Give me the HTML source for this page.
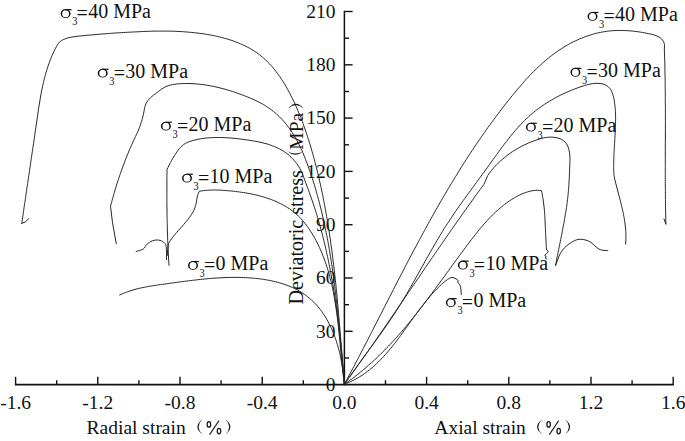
<!DOCTYPE html>
<html><head><meta charset="utf-8"><style>
html,body{margin:0;padding:0;background:#fff;width:685px;height:441px;overflow:hidden}
svg{display:block}
text{font-family:"Liberation Serif", serif;fill:#111}
</style></head><body>
<svg width="685" height="441" viewBox="0 0 685 441">
<rect width="685" height="441" fill="#fff"/>
<line x1="344.4" y1="10.8" x2="344.4" y2="385.4" stroke="#111" stroke-width="1.5"/>
<line x1="14.9" y1="384.6" x2="673.9" y2="384.6" stroke="#111" stroke-width="1.6"/>
<line x1="344.4" y1="358.0" x2="349.0" y2="358.0" stroke="#111" stroke-width="1.4"/>
<line x1="344.4" y1="331.3" x2="352.6" y2="331.3" stroke="#111" stroke-width="1.4"/>
<line x1="344.4" y1="304.7" x2="349.0" y2="304.7" stroke="#111" stroke-width="1.4"/>
<line x1="344.4" y1="278.0" x2="352.6" y2="278.0" stroke="#111" stroke-width="1.4"/>
<line x1="344.4" y1="251.4" x2="349.0" y2="251.4" stroke="#111" stroke-width="1.4"/>
<line x1="344.4" y1="224.7" x2="352.6" y2="224.7" stroke="#111" stroke-width="1.4"/>
<line x1="344.4" y1="198.1" x2="349.0" y2="198.1" stroke="#111" stroke-width="1.4"/>
<line x1="344.4" y1="171.4" x2="352.6" y2="171.4" stroke="#111" stroke-width="1.4"/>
<line x1="344.4" y1="144.8" x2="349.0" y2="144.8" stroke="#111" stroke-width="1.4"/>
<line x1="344.4" y1="118.1" x2="352.6" y2="118.1" stroke="#111" stroke-width="1.4"/>
<line x1="344.4" y1="91.5" x2="349.0" y2="91.5" stroke="#111" stroke-width="1.4"/>
<line x1="344.4" y1="64.8" x2="352.6" y2="64.8" stroke="#111" stroke-width="1.4"/>
<line x1="344.4" y1="38.2" x2="349.0" y2="38.2" stroke="#111" stroke-width="1.4"/>
<line x1="344.4" y1="11.5" x2="352.6" y2="11.5" stroke="#111" stroke-width="1.4"/>
<line x1="15.6" y1="384.6" x2="15.6" y2="376.8" stroke="#111" stroke-width="1.4"/>
<line x1="56.7" y1="384.6" x2="56.7" y2="380.2" stroke="#111" stroke-width="1.4"/>
<line x1="97.8" y1="384.6" x2="97.8" y2="376.8" stroke="#111" stroke-width="1.4"/>
<line x1="138.9" y1="384.6" x2="138.9" y2="380.2" stroke="#111" stroke-width="1.4"/>
<line x1="180.0" y1="384.6" x2="180.0" y2="376.8" stroke="#111" stroke-width="1.4"/>
<line x1="221.1" y1="384.6" x2="221.1" y2="380.2" stroke="#111" stroke-width="1.4"/>
<line x1="262.2" y1="384.6" x2="262.2" y2="376.8" stroke="#111" stroke-width="1.4"/>
<line x1="303.3" y1="384.6" x2="303.3" y2="380.2" stroke="#111" stroke-width="1.4"/>
<line x1="385.5" y1="384.6" x2="385.5" y2="380.2" stroke="#111" stroke-width="1.4"/>
<line x1="426.6" y1="384.6" x2="426.6" y2="376.8" stroke="#111" stroke-width="1.4"/>
<line x1="467.7" y1="384.6" x2="467.7" y2="380.2" stroke="#111" stroke-width="1.4"/>
<line x1="508.8" y1="384.6" x2="508.8" y2="376.8" stroke="#111" stroke-width="1.4"/>
<line x1="549.9" y1="384.6" x2="549.9" y2="380.2" stroke="#111" stroke-width="1.4"/>
<line x1="591.0" y1="384.6" x2="591.0" y2="376.8" stroke="#111" stroke-width="1.4"/>
<line x1="632.1" y1="384.6" x2="632.1" y2="380.2" stroke="#111" stroke-width="1.4"/>
<line x1="673.2" y1="384.6" x2="673.2" y2="376.8" stroke="#111" stroke-width="1.4"/>
<text x="335.6" y="390.9" text-anchor="end" font-size="19.5">0</text>
<text x="335.6" y="337.6" text-anchor="end" font-size="19.5">30</text>
<text x="335.6" y="284.3" text-anchor="end" font-size="19.5">60</text>
<text x="335.6" y="231.0" text-anchor="end" font-size="19.5">90</text>
<text x="335.6" y="177.7" text-anchor="end" font-size="19.5">120</text>
<text x="335.6" y="124.4" text-anchor="end" font-size="19.5">150</text>
<text x="335.6" y="71.1" text-anchor="end" font-size="19.5">180</text>
<text x="335.6" y="17.8" text-anchor="end" font-size="19.5">210</text>
<text x="15.6" y="408.8" text-anchor="middle" font-size="19.5">-1.6</text>
<text x="97.8" y="408.8" text-anchor="middle" font-size="19.5">-1.2</text>
<text x="180.0" y="408.8" text-anchor="middle" font-size="19.5">-0.8</text>
<text x="262.2" y="408.8" text-anchor="middle" font-size="19.5">-0.4</text>
<text x="344.4" y="408.8" text-anchor="middle" font-size="19.5">0.0</text>
<text x="426.6" y="408.8" text-anchor="middle" font-size="19.5">0.4</text>
<text x="508.8" y="408.8" text-anchor="middle" font-size="19.5">0.8</text>
<text x="591.0" y="408.8" text-anchor="middle" font-size="19.5">1.2</text>
<text x="673.2" y="408.8" text-anchor="middle" font-size="19.5">1.6</text>
<text x="86.6" y="434.1" font-size="19.5">Radial strain</text>
<path d="M202.50,419.30 Q192.30,426.90 202.50,434.50 Q194.80,426.90 202.50,419.30Z" fill="#161616"/><ellipse cx="208.90" cy="424.4" rx="1.75" ry="2.75" fill="none" stroke="#161616" stroke-width="1.25"/><ellipse cx="219.00" cy="431.1" rx="1.75" ry="2.75" fill="none" stroke="#161616" stroke-width="1.25"/><line x1="209.60" y1="434.6" x2="219.00" y2="420.6" stroke="#161616" stroke-width="1.05"/><path d="M225.30,419.30 Q235.50,426.90 225.30,434.50 Q233.00,426.90 225.30,419.30Z" fill="#161616"/>
<text x="434.3" y="434.1" font-size="19.5">Axial strain</text>
<path d="M542.20,419.30 Q532.00,426.90 542.20,434.50 Q534.50,426.90 542.20,419.30Z" fill="#161616"/><ellipse cx="548.60" cy="424.4" rx="1.75" ry="2.75" fill="none" stroke="#161616" stroke-width="1.25"/><ellipse cx="558.70" cy="431.1" rx="1.75" ry="2.75" fill="none" stroke="#161616" stroke-width="1.25"/><line x1="549.30" y1="434.6" x2="558.70" y2="420.6" stroke="#161616" stroke-width="1.05"/><path d="M565.00,419.30 Q575.20,426.90 565.00,434.50 Q572.70,426.90 565.00,419.30Z" fill="#161616"/>
<g transform="translate(302.8,304.6) rotate(-90)"><text x="0" y="0" font-size="20.1">Deviatoric stress</text><text x="154.9" y="0" font-size="19.5">MPa</text></g>
<path d="M287.40,151.20 Q295.30,158.40 303.20,151.20 Q295.30,156.00 287.40,151.20Z" fill="#161616"/>
<path d="M288.00,108.60 Q295.80,98.80 303.60,108.60 Q295.80,101.20 288.00,108.60Z" fill="#161616"/>
<path d="M60.60,13.55 a5.0,4.45 0 1,0 10.00,0 a5.0,4.45 0 1,0 -10.00,0Z M62.15,13.70 a3.45,3.55 0 1,0 6.90,0 a3.45,3.55 0 1,0 -6.90,0Z" fill="#111" fill-rule="evenodd"/><path d="M65.30,9.05 L71.50,9.05 L71.50,10.25 L65.30,10.25Z" fill="#111"/><text x="72.20" y="25.00" font-size="12" textLength="5.2" lengthAdjust="spacingAndGlyphs">3</text><text x="76.60" y="20.20" font-size="20">=<tspan dx="0.3" dy="-2.2">40 MPa</tspan></text>
<path d="M97.70,73.15 a5.0,4.45 0 1,0 10.00,0 a5.0,4.45 0 1,0 -10.00,0Z M99.25,73.30 a3.45,3.55 0 1,0 6.90,0 a3.45,3.55 0 1,0 -6.90,0Z" fill="#111" fill-rule="evenodd"/><path d="M102.40,68.65 L108.60,68.65 L108.60,69.85 L102.40,69.85Z" fill="#111"/><text x="109.30" y="84.60" font-size="12" textLength="5.2" lengthAdjust="spacingAndGlyphs">3</text><text x="113.70" y="79.80" font-size="20">=<tspan dx="0.3" dy="-2.2">30 MPa</tspan></text>
<path d="M160.90,126.15 a5.0,4.45 0 1,0 10.00,0 a5.0,4.45 0 1,0 -10.00,0Z M162.45,126.30 a3.45,3.55 0 1,0 6.90,0 a3.45,3.55 0 1,0 -6.90,0Z" fill="#111" fill-rule="evenodd"/><path d="M165.60,121.65 L171.80,121.65 L171.80,122.85 L165.60,122.85Z" fill="#111"/><text x="172.50" y="137.60" font-size="12" textLength="5.2" lengthAdjust="spacingAndGlyphs">3</text><text x="176.90" y="132.80" font-size="20">=<tspan dx="0.3" dy="-2.2">20 MPa</tspan></text>
<path d="M182.00,178.15 a5.0,4.45 0 1,0 10.00,0 a5.0,4.45 0 1,0 -10.00,0Z M183.55,178.30 a3.45,3.55 0 1,0 6.90,0 a3.45,3.55 0 1,0 -6.90,0Z" fill="#111" fill-rule="evenodd"/><path d="M186.70,173.65 L192.90,173.65 L192.90,174.85 L186.70,174.85Z" fill="#111"/><text x="193.60" y="189.60" font-size="12" textLength="5.2" lengthAdjust="spacingAndGlyphs">3</text><text x="198.00" y="184.80" font-size="20">=<tspan dx="0.3" dy="-2.2">10 MPa</tspan></text>
<path d="M188.00,265.45 a5.0,4.45 0 1,0 10.00,0 a5.0,4.45 0 1,0 -10.00,0Z M189.55,265.60 a3.45,3.55 0 1,0 6.90,0 a3.45,3.55 0 1,0 -6.90,0Z" fill="#111" fill-rule="evenodd"/><path d="M192.70,260.95 L198.90,260.95 L198.90,262.15 L192.70,262.15Z" fill="#111"/><text x="199.60" y="276.90" font-size="12" textLength="5.2" lengthAdjust="spacingAndGlyphs">3</text><text x="204.00" y="272.10" font-size="20">=<tspan dx="0.3" dy="-2.2">0 MPa</tspan></text>
<path d="M587.50,16.35 a5.0,4.45 0 1,0 10.00,0 a5.0,4.45 0 1,0 -10.00,0Z M589.05,16.50 a3.45,3.55 0 1,0 6.90,0 a3.45,3.55 0 1,0 -6.90,0Z" fill="#111" fill-rule="evenodd"/><path d="M592.20,11.85 L598.40,11.85 L598.40,13.05 L592.20,13.05Z" fill="#111"/><text x="599.10" y="27.80" font-size="12" textLength="5.2" lengthAdjust="spacingAndGlyphs">3</text><text x="603.50" y="23.00" font-size="20">=<tspan dx="0.3" dy="-2.2">40 MPa</tspan></text>
<path d="M570.40,72.25 a5.0,4.45 0 1,0 10.00,0 a5.0,4.45 0 1,0 -10.00,0Z M571.95,72.40 a3.45,3.55 0 1,0 6.90,0 a3.45,3.55 0 1,0 -6.90,0Z" fill="#111" fill-rule="evenodd"/><path d="M575.10,67.75 L581.30,67.75 L581.30,68.95 L575.10,68.95Z" fill="#111"/><text x="582.00" y="83.70" font-size="12" textLength="5.2" lengthAdjust="spacingAndGlyphs">3</text><text x="586.40" y="78.90" font-size="20">=<tspan dx="0.3" dy="-2.2">30 MPa</tspan></text>
<path d="M525.90,127.15 a5.0,4.45 0 1,0 10.00,0 a5.0,4.45 0 1,0 -10.00,0Z M527.45,127.30 a3.45,3.55 0 1,0 6.90,0 a3.45,3.55 0 1,0 -6.90,0Z" fill="#111" fill-rule="evenodd"/><path d="M530.60,122.65 L536.80,122.65 L536.80,123.85 L530.60,123.85Z" fill="#111"/><text x="537.50" y="138.60" font-size="12" textLength="5.2" lengthAdjust="spacingAndGlyphs">3</text><text x="541.90" y="133.80" font-size="20">=<tspan dx="0.3" dy="-2.2">20 MPa</tspan></text>
<path d="M457.80,265.05 a5.0,4.45 0 1,0 10.00,0 a5.0,4.45 0 1,0 -10.00,0Z M459.35,265.20 a3.45,3.55 0 1,0 6.90,0 a3.45,3.55 0 1,0 -6.90,0Z" fill="#111" fill-rule="evenodd"/><path d="M462.50,260.55 L468.70,260.55 L468.70,261.75 L462.50,261.75Z" fill="#111"/><text x="469.40" y="276.50" font-size="12" textLength="5.2" lengthAdjust="spacingAndGlyphs">3</text><text x="473.80" y="271.70" font-size="20">=<tspan dx="0.3" dy="-2.2">10 MPa</tspan></text>
<path d="M445.80,302.55 a5.0,4.45 0 1,0 10.00,0 a5.0,4.45 0 1,0 -10.00,0Z M447.35,302.70 a3.45,3.55 0 1,0 6.90,0 a3.45,3.55 0 1,0 -6.90,0Z" fill="#111" fill-rule="evenodd"/><path d="M450.50,298.05 L456.70,298.05 L456.70,299.25 L450.50,299.25Z" fill="#111"/><text x="457.40" y="314.00" font-size="12" textLength="5.2" lengthAdjust="spacingAndGlyphs">3</text><text x="461.80" y="309.20" font-size="20">=<tspan dx="0.3" dy="-2.2">0 MPa</tspan></text>
<path d="M344.4,384.2 L344.2,382.2 L344.1,380.2 L343.9,378.2 L343.7,376.3 L343.6,374.3 L343.4,372.3 L343.3,370.3 L343.1,368.3 L342.9,366.3 L342.8,364.3 L342.6,362.3 L342.5,360.3 L342.3,358.3 L342.1,356.3 L342.0,354.3 L341.8,352.3 L341.7,350.3 L341.5,348.3 L341.3,346.3 L341.2,344.3 L341.0,342.3 L340.8,340.3 L340.7,338.3 L340.5,336.3 L340.4,334.3 L340.2,332.3 L340.0,330.3 L339.9,328.3 L339.7,326.3 L339.5,324.3 L339.3,322.3 L339.2,320.3 L339.0,318.3 L338.8,316.3 L338.6,314.3 L338.5,312.3 L338.3,310.3 L338.1,308.2 L337.9,306.2 L337.7,304.2 L337.5,302.2 L337.4,300.2 L337.2,298.2 L337.0,296.2 L336.8,294.2 L336.6,292.2 L336.4,290.2 L336.2,288.2 L336.0,286.2 L335.8,284.2 L335.6,282.1 L335.3,280.1 L335.1,278.1 L334.9,276.1 L334.7,274.1 L334.5,272.1 L334.2,270.1 L334.0,268.1 L333.8,266.1 L333.5,264.1 L333.3,262.1 L333.0,260.1 L332.8,258.1 L332.5,256.1 L332.3,254.1 L332.0,252.1 L331.8,250.1 L331.5,248.1 L331.2,246.1 L330.9,244.1 L330.7,242.1 L330.4,240.1 L330.1,238.1 L329.8,236.1 L329.5,234.1 L329.2,232.2 L328.9,230.2 L328.6,228.2 L328.3,226.2 L328.0,224.2 L327.6,222.2 L327.3,220.2 L327.0,218.3 L326.6,216.3 L326.3,214.3 L325.9,212.3 L325.6,210.3 L325.2,208.4 L324.9,206.4 L324.5,204.4 L324.1,202.5 L323.7,200.5 L323.3,198.5 L323.0,196.5 L322.6,194.6 L322.2,192.6 L321.7,190.7 L321.3,188.7 L320.9,186.7 L320.5,184.8 L320.0,182.8 L319.6,180.9 L319.2,178.9 L318.7,177.0 L318.2,175.0 L317.8,173.1 L317.3,171.1 L316.8,169.2 L316.3,167.3 L315.8,165.3 L315.3,163.4 L314.8,161.5 L314.3,159.5 L313.8,157.6 L313.3,155.7 L312.7,153.8 L312.2,151.8 L311.6,149.9 L311.1,148.0 L310.5,146.1 L309.9,144.2 L309.3,142.3 L308.8,140.4 L308.1,138.5 L307.5,136.6 L306.9,134.7 L306.3,132.8 L305.6,130.9 L305.0,129.0 L304.3,127.1 L303.6,125.2 L303.0,123.3 L302.3,121.5 L301.5,119.6 L300.8,117.7 L300.1,115.9 L299.3,114.0 L298.5,112.1 L297.8,110.3 L297.0,108.4 L296.1,106.6 L295.3,104.7 L294.5,102.9 L293.6,101.0 L292.7,99.2 L291.8,97.4 L290.9,95.6 L290.0,93.7 L289.0,91.9 L288.1,90.1 L287.1,88.4 L286.1,86.6 L285.1,84.8 L284.0,83.1 L282.9,81.4 L281.8,79.7 L280.7,78.0 L279.6,76.3 L278.4,74.7 L277.2,73.1 L276.0,71.5 L274.8,69.9 L273.5,68.3 L272.2,66.8 L270.9,65.3 L269.6,63.9 L268.2,62.5 L266.8,61.1 L265.4,59.7 L263.9,58.4 L262.4,57.1 L260.9,55.9 L259.4,54.6 L257.8,53.5 L256.2,52.3 L254.6,51.3 L252.9,50.2 L251.2,49.2 L249.5,48.2 L247.7,47.3 L246.0,46.3 L244.2,45.5 L242.4,44.6 L240.5,43.8 L238.7,43.0 L236.8,42.3 L234.9,41.6 L233.0,40.9 L231.1,40.2 L229.2,39.6 L227.3,39.0 L225.3,38.5 L223.3,37.9 L221.4,37.4 L219.4,36.9 L217.4,36.4 L215.4,36.0 L213.4,35.6 L211.3,35.2 L209.3,34.8 L207.3,34.5 L205.3,34.1 L203.3,33.8 L201.3,33.5 L199.2,33.3 L197.2,33.0 L195.2,32.8 L193.2,32.6 L191.2,32.4 L189.2,32.2 L187.2,32.0 L185.2,31.9 L183.2,31.7 L181.2,31.6 L179.1,31.5 L177.1,31.4 L175.1,31.3 L173.2,31.2 L171.2,31.2 L169.2,31.1 L167.2,31.1 L165.2,31.1 L163.2,31.1 L161.2,31.1 L159.2,31.1 L157.2,31.1 L155.2,31.1 L153.2,31.2 L151.2,31.2 L149.2,31.3 L147.2,31.4 L145.2,31.4 L143.2,31.5 L141.2,31.6 L139.2,31.7 L137.3,31.8 L135.3,31.9 L133.3,32.0 L131.3,32.1 L129.3,32.2 L127.3,32.3 L125.3,32.4 L123.3,32.5 L121.2,32.7 L119.2,32.8 L117.2,32.9 L115.2,33.0 L113.2,33.2 L111.2,33.3 L109.2,33.5 L107.2,33.6 L105.2,33.8 L103.2,33.9 L101.2,34.1 L99.2,34.3 L97.2,34.4 L95.1,34.6 L93.1,34.8 L91.1,35.0 L89.1,35.1 L87.1,35.3 L85.1,35.5 L83.1,35.7 L81.1,35.9 L79.1,36.1 L77.1,36.3 L75.1,36.6 L73.1,36.9 L71.1,37.2 L69.1,37.6 L67.1,38.2 L65.2,38.8 L63.3,39.6 L61.6,40.5 L60.0,41.7 L58.7,43.1 L57.5,44.7 L56.5,46.5 L55.5,48.3 L54.6,50.1 L53.7,51.9 L52.9,53.8 L52.0,55.6 L51.3,57.5 L50.5,59.3 L49.8,61.2 L49.1,63.1 L48.4,65.0 L47.8,66.9 L47.2,68.8 L46.6,70.7 L46.0,72.6 L45.5,74.5 L44.9,76.5 L44.4,78.4 L44.0,80.4 L43.5,82.3 L43.0,84.2 L42.6,86.2 L42.2,88.2 L41.8,90.1 L41.4,92.1 L41.0,94.1 L40.7,96.0 L40.3,98.0 L40.0,100.0 L39.7,102.0 L39.4,104.0 L39.0,106.0 L38.7,107.9 L38.4,109.9 L38.1,111.9 L37.8,113.9 L37.6,115.9 L37.3,117.9 L37.0,119.9 L36.7,121.9 L36.4,123.9 L36.1,125.9 L35.8,127.9 L35.5,129.8 L35.2,131.8 L34.9,133.8 L34.7,135.8 L34.4,137.8 L34.1,139.8 L33.8,141.8 L33.5,143.8 L33.2,145.8 L32.9,147.8 L32.6,149.7 L32.3,151.7 L32.0,153.7 L31.7,155.7 L31.4,157.7 L31.1,159.7 L30.8,161.7 L30.6,163.7 L30.3,165.7 L30.0,167.6 L29.7,169.6 L29.4,171.6 L29.1,173.6 L28.8,175.6 L28.5,177.6 L28.2,179.6 L27.9,181.6 L27.6,183.5 L27.3,185.5 L27.0,187.5 L26.7,189.5 L26.4,191.5 L26.1,193.5 L25.9,195.5 L25.6,197.5 L25.3,199.4 L25.0,201.4 L24.7,203.4 L24.4,205.4 L24.1,207.4 L23.8,209.4 L23.5,211.4 L23.2,213.4 L23.0,215.3 L22.7,217.3 L22.4,219.3 L22.1,221.3 L21.8,223.3" stroke="#262626" stroke-width="1.0" fill="none" stroke-linejoin="round" stroke-linecap="round"/>
<path d="M344.4,384.2 L344.2,382.2 L344.0,380.2 L343.8,378.3 L343.7,376.3 L343.5,374.3 L343.3,372.3 L343.1,370.3 L342.9,368.3 L342.8,366.3 L342.6,364.3 L342.4,362.3 L342.2,360.3 L342.0,358.3 L341.9,356.3 L341.7,354.4 L341.5,352.4 L341.3,350.4 L341.1,348.4 L341.0,346.4 L340.8,344.3 L340.6,342.3 L340.4,340.3 L340.2,338.3 L340.0,336.3 L339.8,334.3 L339.7,332.3 L339.5,330.3 L339.3,328.3 L339.1,326.3 L338.9,324.3 L338.7,322.3 L338.5,320.3 L338.3,318.3 L338.1,316.3 L337.9,314.3 L337.7,312.3 L337.5,310.3 L337.2,308.3 L337.0,306.2 L336.8,304.2 L336.6,302.2 L336.4,300.2 L336.1,298.2 L335.9,296.2 L335.7,294.2 L335.4,292.2 L335.2,290.2 L334.9,288.2 L334.7,286.2 L334.4,284.2 L334.2,282.2 L333.9,280.2 L333.7,278.2 L333.4,276.2 L333.1,274.2 L332.8,272.2 L332.6,270.2 L332.3,268.2 L332.0,266.2 L331.7,264.2 L331.4,262.2 L331.1,260.3 L330.8,258.3 L330.4,256.3 L330.1,254.3 L329.8,252.3 L329.5,250.3 L329.1,248.3 L328.8,246.4 L328.4,244.4 L328.1,242.4 L327.7,240.4 L327.3,238.5 L327.0,236.5 L326.6,234.5 L326.2,232.5 L325.8,230.6 L325.4,228.6 L325.0,226.6 L324.6,224.7 L324.1,222.7 L323.7,220.8 L323.3,218.8 L322.8,216.9 L322.4,214.9 L321.9,213.0 L321.5,211.0 L321.0,209.1 L320.5,207.1 L320.0,205.2 L319.5,203.2 L319.0,201.3 L318.5,199.4 L318.0,197.5 L317.4,195.5 L316.9,193.6 L316.4,191.7 L315.8,189.8 L315.2,187.8 L314.7,185.9 L314.1,184.0 L313.5,182.1 L312.9,180.2 L312.3,178.3 L311.6,176.4 L311.0,174.5 L310.4,172.6 L309.7,170.7 L309.1,168.9 L308.4,167.0 L307.7,165.1 L307.0,163.2 L306.3,161.4 L305.6,159.5 L304.9,157.6 L304.1,155.8 L303.3,153.9 L302.6,152.1 L301.8,150.3 L300.9,148.5 L300.1,146.6 L299.2,144.8 L298.3,143.1 L297.4,141.3 L296.4,139.5 L295.5,137.8 L294.4,136.1 L293.4,134.4 L292.3,132.7 L291.2,131.0 L290.0,129.3 L288.9,127.7 L287.6,126.1 L286.4,124.5 L285.1,122.9 L283.7,121.3 L282.4,119.8 L281.0,118.4 L279.6,116.9 L278.1,115.5 L276.6,114.1 L275.1,112.8 L273.5,111.5 L271.9,110.2 L270.3,109.0 L268.7,107.9 L267.0,106.8 L265.4,105.7 L263.7,104.7 L261.9,103.7 L260.2,102.8 L258.4,101.8 L256.6,101.0 L254.8,100.1 L253.0,99.3 L251.2,98.5 L249.4,97.7 L247.5,97.0 L245.7,96.3 L243.8,95.5 L241.9,94.8 L240.1,94.1 L238.2,93.5 L236.3,92.8 L234.4,92.1 L232.5,91.5 L230.6,90.9 L228.7,90.3 L226.8,89.7 L224.9,89.2 L222.9,88.7 L221.0,88.2 L219.0,87.7 L217.1,87.2 L215.1,86.8 L213.2,86.3 L211.2,86.0 L209.2,85.6 L207.2,85.3 L205.2,84.9 L203.2,84.7 L201.2,84.4 L199.2,84.2 L197.1,84.0 L195.1,83.8 L193.0,83.7 L191.0,83.6 L189.0,83.5 L186.9,83.5 L184.9,83.5 L182.8,83.6 L180.8,83.7 L178.8,83.8 L176.7,84.0 L174.7,84.3 L172.7,84.6 L170.8,85.0 L168.9,85.5 L167.0,86.2 L165.3,86.9 L163.5,87.9 L161.9,88.9 L160.2,90.1 L158.6,91.3 L157.0,92.5 L155.4,93.8 L153.7,95.0 L152.1,96.3 L150.6,97.7 L149.2,99.1 L147.9,100.6 L146.8,102.2 L145.9,103.9 L145.2,105.8 L144.7,107.7 L144.3,109.7 L143.9,111.8 L143.5,113.8 L143.1,115.7 L142.6,117.7 L142.1,119.6 L141.5,121.5 L140.9,123.4 L140.3,125.3 L139.6,127.2 L138.9,129.0 L138.1,130.9 L137.3,132.7 L136.4,134.6 L135.6,136.4 L134.7,138.2 L133.8,140.1 L133.0,141.9 L132.2,143.8 L131.3,145.6 L130.5,147.4 L129.7,149.3 L128.9,151.1 L128.2,153.0 L127.4,154.8 L126.7,156.7 L125.9,158.6 L125.2,160.4 L124.5,162.3 L123.8,164.2 L123.1,166.0 L122.4,167.9 L121.7,169.8 L121.0,171.7 L120.4,173.6 L119.7,175.4 L119.1,177.3 L118.5,179.2 L117.8,181.1 L117.2,183.0 L116.6,185.0 L116.0,186.9 L115.4,188.8 L114.9,190.7 L114.3,192.6 L113.7,194.6 L113.2,196.5 L112.6,198.5 L112.1,200.4 L111.6,202.4 L111.0,204.3 L110.5,206.3 L112.5,222.5 L116.3,243.8" stroke="#262626" stroke-width="1.0" fill="none" stroke-linejoin="round" stroke-linecap="round"/>
<path d="M344.4,384.2 L344.2,382.2 L344.1,380.2 L343.9,378.2 L343.7,376.2 L343.6,374.2 L343.4,372.2 L343.2,370.2 L343.1,368.2 L342.9,366.2 L342.7,364.2 L342.5,362.1 L342.3,360.1 L342.2,358.1 L342.0,356.1 L341.8,354.1 L341.6,352.1 L341.4,350.1 L341.2,348.1 L341.0,346.1 L340.8,344.1 L340.6,342.1 L340.4,340.1 L340.1,338.1 L339.9,336.0 L339.7,334.0 L339.5,332.0 L339.2,330.0 L339.0,328.0 L338.8,326.0 L338.5,324.0 L338.3,322.0 L338.0,320.0 L337.8,318.0 L337.5,316.0 L337.3,314.0 L337.0,312.0 L336.7,310.0 L336.5,308.0 L336.2,306.0 L335.9,304.0 L335.6,302.0 L335.3,300.0 L335.0,298.0 L334.7,296.0 L334.4,294.0 L334.1,292.0 L333.8,290.0 L333.4,288.0 L333.1,286.0 L332.8,284.1 L332.4,282.1 L332.1,280.1 L331.7,278.1 L331.4,276.1 L331.0,274.1 L330.7,272.2 L330.3,270.2 L329.9,268.2 L329.5,266.2 L329.1,264.2 L328.7,262.3 L328.3,260.3 L327.9,258.3 L327.5,256.4 L327.0,254.4 L326.6,252.4 L326.2,250.5 L325.7,248.5 L325.3,246.5 L324.8,244.6 L324.3,242.6 L323.9,240.7 L323.4,238.7 L322.9,236.8 L322.4,234.8 L321.9,232.9 L321.4,230.9 L320.8,229.0 L320.3,227.0 L319.8,225.1 L319.2,223.2 L318.7,221.2 L318.1,219.3 L317.5,217.4 L317.0,215.4 L316.4,213.5 L315.8,211.6 L315.2,209.7 L314.6,207.8 L313.9,205.9 L313.3,203.9 L312.7,202.0 L312.0,200.1 L311.4,198.2 L310.7,196.3 L310.0,194.4 L309.3,192.5 L308.7,190.6 L308.0,188.8 L307.2,186.9 L306.5,185.0 L305.8,183.1 L305.1,181.2 L304.5,179.4 L303.8,177.5 L303.1,175.7 L302.4,173.8 L301.6,172.0 L300.8,170.2 L299.8,168.4 L298.8,166.7 L297.7,165.0 L296.5,163.3 L295.2,161.7 L293.9,160.1 L292.5,158.6 L291.0,157.1 L289.5,155.7 L288.0,154.4 L286.4,153.2 L284.7,152.0 L283.1,150.9 L281.4,149.9 L279.7,149.0 L277.9,148.1 L276.1,147.3 L274.3,146.5 L272.5,145.8 L270.6,145.1 L268.8,144.5 L266.9,143.9 L265.0,143.4 L263.0,142.9 L261.1,142.4 L259.1,142.0 L257.1,141.6 L255.1,141.2 L253.2,140.9 L251.1,140.5 L249.1,140.2 L247.1,139.9 L245.1,139.7 L243.1,139.4 L241.1,139.1 L239.1,138.9 L237.1,138.6 L235.0,138.4 L233.0,138.2 L231.0,138.0 L229.0,137.9 L227.0,137.8 L224.9,137.6 L222.9,137.6 L220.9,137.5 L218.9,137.5 L216.9,137.5 L214.9,137.5 L212.8,137.6 L210.8,137.7 L208.8,137.8 L206.8,138.0 L204.8,138.2 L202.8,138.5 L200.8,138.8 L198.8,139.1 L196.8,139.5 L194.9,140.0 L192.9,140.5 L190.9,141.1 L189.0,141.7 L187.2,142.5 L185.4,143.4 L183.7,144.5 L182.2,145.7 L180.7,147.1 L179.4,148.6 L178.1,150.2 L176.9,151.8 L175.8,153.5 L174.7,155.2 L173.6,157.0 L172.6,158.7 L171.6,160.5 L170.7,162.3 L169.7,164.0 L168.8,165.8 L167.9,167.6 L167.0,169.4 L167.0,171.5 L167.0,173.6 L166.9,175.6 L166.9,177.7 L166.9,179.8 L166.9,181.9 L166.9,184.0 L166.9,186.1 L166.9,188.1 L166.9,190.2 L166.9,192.3 L166.9,194.4 L166.9,196.5 L166.9,198.6 L166.9,200.7 L166.9,202.7 L166.9,204.8 L166.9,206.9 L167.0,209.0 L167.0,211.1 L167.0,213.2 L167.0,215.3 L167.1,217.4 L167.1,219.4 L167.2,221.5 L167.2,223.6 L167.3,225.7 L167.3,227.8 L167.4,229.9 L167.4,232.0 L167.5,234.0 L167.6,236.1 L167.6,238.2 L167.7,240.3 L167.8,242.4 L167.9,244.5 L168.0,246.6 L168.1,248.6 L168.2,250.7 L168.3,252.8 L168.4,254.9 L168.5,257.0 L168.6,259.1 L168.7,261.1 L168.9,263.2 L169.0,265.3" stroke="#262626" stroke-width="1.0" fill="none" stroke-linejoin="round" stroke-linecap="round"/>
<path d="M344.4,384.2 L344.1,382.2 L343.9,380.1 L343.6,378.1 L343.3,376.1 L343.1,374.1 L342.9,372.1 L342.6,370.0 L342.4,368.0 L342.2,366.0 L342.0,364.0 L341.8,362.0 L341.6,359.9 L341.4,357.9 L341.2,355.9 L341.0,353.9 L340.8,351.9 L340.6,349.9 L340.4,347.9 L340.2,345.9 L340.1,343.9 L339.9,341.9 L339.7,339.8 L339.5,337.8 L339.3,335.8 L339.1,333.8 L338.9,331.8 L338.7,329.8 L338.5,327.9 L338.3,325.9 L338.1,323.9 L337.8,321.9 L337.6,319.9 L337.4,317.9 L337.1,315.9 L336.9,313.9 L336.6,311.9 L336.3,309.9 L336.0,308.0 L335.7,306.0 L335.4,304.0 L335.1,302.0 L334.8,300.0 L334.5,298.1 L334.1,296.1 L333.7,294.1 L333.4,292.2 L333.0,290.2 L332.6,288.2 L332.1,286.3 L331.7,284.3 L331.2,282.3 L330.7,280.4 L330.2,278.4 L329.7,276.5 L329.2,274.5 L328.6,272.5 L328.1,270.6 L327.5,268.6 L326.9,266.7 L326.2,264.8 L325.6,262.8 L324.9,260.9 L324.2,259.0 L323.5,257.1 L322.7,255.2 L322.0,253.3 L321.2,251.4 L320.4,249.5 L319.5,247.6 L318.7,245.8 L317.8,244.0 L316.9,242.1 L315.9,240.3 L314.9,238.6 L314.0,236.8 L312.9,235.0 L311.9,233.3 L310.8,231.6 L309.7,229.9 L308.6,228.2 L307.4,226.6 L306.3,225.0 L305.0,223.4 L303.8,221.9 L302.5,220.3 L301.2,218.9 L299.8,217.4 L298.4,216.0 L297.0,214.7 L295.5,213.4 L294.0,212.1 L292.4,210.9 L290.8,209.7 L289.2,208.6 L287.5,207.6 L285.8,206.5 L284.1,205.5 L282.4,204.6 L280.6,203.7 L278.8,202.8 L277.0,201.9 L275.1,201.1 L273.3,200.4 L271.4,199.6 L269.5,198.9 L267.6,198.3 L265.6,197.6 L263.7,197.0 L261.7,196.5 L259.7,195.9 L257.8,195.4 L255.8,194.9 L253.8,194.5 L251.7,194.0 L249.7,193.6 L247.7,193.3 L245.7,192.9 L243.6,192.6 L241.6,192.3 L239.6,192.0 L237.5,191.7 L235.5,191.5 L233.4,191.2 L231.4,191.0 L229.4,190.8 L227.3,190.7 L225.3,190.5 L223.3,190.4 L221.3,190.2 L219.3,190.1 L217.3,190.1 L215.3,190.0 L213.3,190.0 L211.3,190.1 L209.3,190.1 L207.3,190.3 L205.3,190.4 L203.3,190.7 L201.3,190.9 L199.3,191.3 L198.4,193.2 L197.7,195.1 L197.2,197.1 L196.9,199.2 L196.5,201.2 L196.2,203.3 L195.7,205.3 L195.1,207.2 L194.4,209.1 L193.5,211.0 L192.5,212.8 L191.5,214.5 L190.3,216.2 L189.1,217.9 L187.8,219.6 L186.5,221.2 L185.1,222.8 L183.8,224.4 L182.4,226.0 L181.0,227.6 L179.6,229.1 L178.2,230.7 L176.8,232.3 L175.4,233.9 L174.1,235.5 L172.8,237.1 L171.6,238.8 L170.4,240.5 L169.3,242.2 L168.3,243.9 L167.2,255.6" stroke="#262626" stroke-width="1.0" fill="none" stroke-linejoin="round" stroke-linecap="round"/>
<path d="M344.4,384.2 L344.2,382.3 L344.1,380.4 L343.9,378.4 L343.7,376.5 L343.4,374.5 L343.2,372.5 L342.9,370.5 L342.6,368.5 L342.3,366.5 L342.0,364.5 L341.6,362.5 L341.2,360.5 L340.8,358.4 L340.4,356.4 L340.0,354.4 L339.5,352.4 L339.0,350.4 L338.5,348.4 L337.9,346.3 L337.3,344.4 L336.7,342.4 L336.1,340.4 L335.4,338.4 L334.7,336.5 L334.0,334.5 L333.2,332.6 L332.4,330.7 L331.6,328.8 L330.7,326.9 L329.9,325.1 L328.9,323.3 L328.0,321.5 L327.0,319.7 L326.0,317.9 L324.9,316.2 L323.8,314.5 L322.7,312.9 L321.6,311.2 L320.4,309.6 L319.1,308.1 L317.8,306.5 L316.5,305.0 L315.2,303.6 L313.8,302.2 L312.3,300.8 L310.9,299.4 L309.4,298.2 L307.8,296.9 L306.3,295.7 L304.7,294.5 L303.0,293.4 L301.4,292.3 L299.7,291.3 L297.9,290.3 L296.2,289.3 L294.4,288.4 L292.6,287.6 L290.8,286.8 L288.9,286.0 L287.1,285.3 L285.2,284.6 L283.3,284.0 L281.3,283.3 L279.4,282.8 L277.4,282.2 L275.5,281.7 L273.5,281.3 L271.5,280.8 L269.5,280.4 L267.5,280.1 L265.5,279.7 L263.5,279.4 L261.5,279.1 L259.4,278.8 L257.4,278.6 L255.4,278.4 L253.4,278.2 L251.4,278.0 L249.3,277.9 L247.3,277.7 L245.3,277.6 L243.3,277.5 L241.2,277.5 L239.2,277.4 L237.2,277.4 L235.1,277.4 L233.1,277.4 L231.1,277.4 L229.1,277.4 L227.0,277.5 L225.0,277.6 L223.0,277.7 L220.9,277.8 L218.9,277.9 L216.9,278.0 L214.9,278.1 L212.8,278.3 L210.8,278.4 L208.8,278.6 L206.8,278.8 L204.7,279.0 L202.7,279.2 L200.7,279.4 L198.7,279.6 L196.6,279.9 L194.6,280.1 L192.6,280.3 L190.6,280.6 L188.6,280.8 L186.6,281.1 L184.5,281.3 L182.5,281.6 L180.5,281.9 L178.5,282.1 L176.5,282.4 L174.5,282.7 L172.5,283.0 L170.5,283.2 L168.5,283.5 L166.5,283.8 L164.5,284.1 L162.5,284.3 L160.5,284.6 L158.5,284.9 L156.5,285.2 L154.6,285.5 L152.6,285.8 L150.6,286.1 L148.6,286.4 L146.7,286.8 L144.7,287.2 L142.7,287.6 L140.8,288.0 L138.8,288.4 L136.9,288.9 L135.0,289.4 L133.0,290.0 L131.1,290.6 L129.2,291.2 L127.3,291.9 L125.4,292.6 L123.5,293.3 L121.6,294.1 L119.7,295.0" stroke="#262626" stroke-width="1.0" fill="none" stroke-linejoin="round" stroke-linecap="round"/>
<path d="M344.4,384.2 L345.4,382.4 L346.3,380.7 L347.3,378.9 L348.2,377.1 L349.1,375.3 L350.1,373.6 L351.0,371.8 L352.0,370.0 L352.9,368.2 L353.9,366.5 L354.8,364.7 L355.7,362.9 L356.7,361.1 L357.6,359.3 L358.5,357.5 L359.5,355.8 L360.4,354.0 L361.3,352.2 L362.2,350.4 L363.2,348.6 L364.1,346.8 L365.0,345.0 L365.9,343.2 L366.9,341.4 L367.8,339.7 L368.7,337.9 L369.6,336.1 L370.5,334.3 L371.5,332.5 L372.4,330.7 L373.3,328.9 L374.2,327.1 L375.1,325.3 L376.1,323.5 L377.0,321.7 L377.9,319.9 L378.8,318.1 L379.7,316.3 L380.6,314.5 L381.6,312.7 L382.5,310.9 L383.4,309.1 L384.3,307.4 L385.2,305.6 L386.1,303.8 L387.1,302.0 L388.0,300.2 L388.9,298.4 L389.8,296.6 L390.7,294.8 L391.7,293.0 L392.6,291.2 L393.5,289.4 L394.4,287.6 L395.3,285.8 L396.3,284.0 L397.2,282.2 L398.1,280.4 L399.0,278.6 L400.0,276.8 L400.9,275.1 L401.8,273.3 L402.7,271.5 L403.7,269.7 L404.6,267.9 L405.5,266.1 L406.5,264.3 L407.4,262.5 L408.3,260.7 L409.3,259.0 L410.2,257.2 L411.1,255.4 L412.1,253.6 L413.0,251.8 L414.0,250.0 L414.9,248.3 L415.9,246.5 L416.8,244.7 L417.8,242.9 L418.7,241.2 L419.7,239.4 L420.6,237.6 L421.6,235.8 L422.5,234.1 L423.5,232.3 L424.5,230.5 L425.4,228.8 L426.4,227.0 L427.4,225.2 L428.3,223.5 L429.3,221.7 L430.3,219.9 L431.3,218.2 L432.3,216.4 L433.2,214.7 L434.2,212.9 L435.2,211.2 L436.2,209.4 L437.2,207.7 L438.2,205.9 L439.2,204.2 L440.2,202.4 L441.2,200.7 L442.2,198.9 L443.2,197.2 L444.2,195.5 L445.3,193.7 L446.3,192.0 L447.3,190.3 L448.3,188.5 L449.4,186.8 L450.4,185.1 L451.4,183.4 L452.5,181.6 L453.5,179.9 L454.6,178.2 L455.6,176.5 L456.7,174.8 L457.7,173.1 L458.8,171.3 L459.8,169.6 L460.9,167.9 L462.0,166.2 L463.0,164.5 L464.1,162.8 L465.2,161.1 L466.3,159.5 L467.4,157.8 L468.5,156.1 L469.6,154.4 L470.7,152.7 L471.8,151.0 L472.9,149.4 L474.0,147.7 L475.1,146.0 L476.3,144.3 L477.4,142.7 L478.5,141.0 L479.7,139.4 L480.8,137.7 L481.9,136.1 L483.1,134.4 L484.2,132.8 L485.4,131.1 L486.6,129.5 L487.7,127.8 L488.9,126.2 L490.1,124.6 L491.3,122.9 L492.5,121.3 L493.7,119.7 L494.9,118.1 L496.1,116.4 L497.3,114.8 L498.5,113.2 L499.7,111.6 L500.9,110.0 L502.2,108.4 L503.4,106.8 L504.6,105.2 L505.9,103.6 L507.1,102.0 L508.4,100.5 L509.7,98.9 L510.9,97.3 L512.2,95.7 L513.5,94.2 L514.8,92.6 L516.1,91.0 L517.4,89.5 L518.7,87.9 L520.0,86.4 L521.3,84.9 L522.6,83.4 L524.0,81.8 L525.3,80.3 L526.7,78.8 L528.1,77.3 L529.4,75.9 L530.8,74.4 L532.2,73.0 L533.7,71.5 L535.1,70.1 L536.5,68.7 L538.0,67.3 L539.4,65.9 L540.9,64.6 L542.4,63.2 L543.9,61.9 L545.4,60.6 L547.0,59.3 L548.5,58.0 L550.1,56.7 L551.7,55.5 L553.3,54.3 L554.9,53.1 L556.6,51.9 L558.2,50.8 L559.9,49.7 L561.6,48.6 L563.3,47.5 L565.0,46.4 L566.8,45.4 L568.6,44.4 L570.3,43.4 L572.1,42.5 L573.9,41.6 L575.8,40.7 L577.6,39.9 L579.4,39.0 L581.3,38.3 L583.2,37.5 L585.1,36.8 L587.0,36.1 L588.9,35.5 L590.8,34.9 L592.7,34.3 L594.6,33.7 L596.6,33.2 L598.5,32.8 L600.5,32.4 L602.4,32.0 L604.4,31.7 L606.3,31.4 L608.3,31.1 L610.3,30.9 L612.3,30.7 L614.3,30.6 L616.2,30.5 L618.2,30.5 L620.2,30.4 L622.2,30.5 L624.2,30.5 L626.2,30.6 L628.2,30.7 L630.2,30.9 L632.2,31.0 L634.2,31.3 L636.2,31.5 L638.3,31.8 L640.3,32.1 L642.3,32.4 L644.3,32.8 L646.3,33.2 L648.3,33.6 L650.3,34.0 L652.3,34.5 L654.3,35.0 L656.2,35.7 L658.0,36.4 L659.7,37.4 L661.2,38.6 L662.5,40.0 L663.5,41.7 L664.3,43.7 L664.6,45.8 L664.3,48.0 L664.4,50.0 L664.4,52.0 L664.5,54.1 L664.6,56.1 L664.6,58.1 L664.7,60.1 L664.8,62.2 L664.8,64.2 L664.9,66.2 L664.9,68.2 L664.9,70.2 L665.0,72.3 L665.0,74.3 L665.1,76.3 L665.1,78.3 L665.1,80.4 L665.2,82.4 L665.2,84.4 L665.2,86.4 L665.2,88.5 L665.3,90.5 L665.3,92.5 L665.3,94.5 L665.3,96.5 L665.3,98.6 L665.3,100.6 L665.3,102.6 L665.4,104.6 L665.4,106.7 L665.4,108.7 L665.4,110.7 L665.4,112.7 L665.4,114.8 L665.4,116.8 L665.4,118.8 L665.4,120.8 L665.4,122.8 L665.4,124.9 L665.4,126.9 L665.4,128.9 L665.4,130.9 L665.4,133.0 L665.4,135.0 L665.4,137.0 L665.4,139.0 L665.4,141.1 L665.3,143.1 L665.3,145.1 L665.3,147.1 L665.3,149.1 L665.3,151.2 L665.3,153.2 L665.3,155.2 L665.3,157.2 L665.3,159.3 L665.3,161.3 L665.3,163.3 L665.3,165.3 L665.3,167.4 L665.3,169.4 L665.3,171.4 L665.3,173.4 L665.3,175.4 L665.3,177.5 L665.3,179.5 L665.3,181.5 L665.3,183.5 L665.3,185.6 L665.4,187.6 L665.4,189.6 L665.4,191.6 L665.4,193.7 L665.4,195.7 L665.4,197.7 L665.5,199.7 L665.5,201.7 L665.5,203.8 L665.5,205.8 L665.6,207.8 L665.6,209.8 L665.6,211.9 L665.7,213.9 L665.7,215.9 L665.8,217.9 L665.8,220.0 L665.8,222.0 L665.9,224.0" stroke="#262626" stroke-width="1.0" fill="none" stroke-linejoin="round" stroke-linecap="round"/>
<path d="M344.4,384.2 L345.5,382.5 L346.7,380.9 L347.8,379.2 L349.0,377.6 L350.2,375.9 L351.3,374.3 L352.5,372.6 L353.7,371.0 L354.8,369.4 L356.0,367.7 L357.2,366.1 L358.4,364.5 L359.6,362.8 L360.7,361.2 L361.9,359.6 L363.1,358.0 L364.3,356.3 L365.5,354.7 L366.7,353.1 L367.9,351.5 L369.1,349.9 L370.3,348.2 L371.4,346.6 L372.6,345.0 L373.8,343.4 L375.0,341.7 L376.2,340.1 L377.4,338.5 L378.5,336.8 L379.7,335.2 L380.9,333.6 L382.0,331.9 L383.2,330.3 L384.3,328.6 L385.5,327.0 L386.6,325.3 L387.8,323.7 L388.9,322.0 L390.0,320.4 L391.2,318.7 L392.3,317.0 L393.4,315.4 L394.5,313.7 L395.6,312.0 L396.7,310.3 L397.8,308.6 L398.8,306.9 L399.9,305.2 L400.9,303.5 L402.0,301.7 L403.0,300.0 L404.1,298.3 L405.1,296.6 L406.1,294.8 L407.2,293.1 L408.2,291.3 L409.2,289.6 L410.2,287.8 L411.2,286.1 L412.2,284.3 L413.2,282.6 L414.2,280.8 L415.2,279.1 L416.2,277.3 L417.2,275.5 L418.2,273.8 L419.1,272.0 L420.1,270.2 L421.1,268.5 L422.1,266.7 L423.1,265.0 L424.1,263.2 L425.0,261.4 L426.0,259.7 L427.0,257.9 L428.0,256.2 L429.0,254.4 L430.0,252.6 L431.0,250.9 L432.0,249.1 L433.0,247.4 L434.0,245.6 L435.0,243.9 L436.0,242.2 L437.0,240.4 L438.1,238.7 L439.1,237.0 L440.1,235.3 L441.2,233.5 L442.2,231.8 L443.3,230.1 L444.3,228.4 L445.4,226.7 L446.5,225.0 L447.6,223.4 L448.7,221.7 L449.8,220.0 L450.9,218.3 L452.0,216.7 L453.1,215.0 L454.2,213.4 L455.4,211.7 L456.5,210.1 L457.6,208.4 L458.8,206.8 L459.9,205.2 L461.1,203.5 L462.3,201.9 L463.4,200.3 L464.6,198.7 L465.8,197.0 L466.9,195.4 L468.1,193.8 L469.3,192.2 L470.5,190.6 L471.7,188.9 L472.9,187.3 L474.0,185.7 L475.2,184.1 L476.4,182.5 L477.6,180.8 L478.8,179.2 L480.0,177.6 L481.2,176.0 L482.4,174.3 L483.6,172.7 L484.8,171.0 L486.0,169.4 L487.2,167.8 L488.3,166.1 L489.5,164.5 L490.7,162.8 L491.9,161.1 L493.1,159.5 L494.3,157.8 L495.5,156.2 L496.7,154.5 L497.9,152.9 L499.1,151.2 L500.3,149.6 L501.5,147.9 L502.7,146.3 L503.9,144.7 L505.1,143.1 L506.4,141.5 L507.6,139.9 L508.9,138.3 L510.1,136.7 L511.4,135.1 L512.7,133.6 L514.0,132.0 L515.3,130.5 L516.6,129.0 L517.9,127.5 L519.3,126.0 L520.6,124.6 L522.0,123.1 L523.4,121.7 L524.8,120.3 L526.2,118.9 L527.7,117.6 L529.1,116.2 L530.6,114.9 L532.1,113.6 L533.6,112.4 L535.2,111.1 L536.7,109.9 L538.3,108.7 L539.9,107.6 L541.5,106.4 L543.1,105.3 L544.7,104.2 L546.4,103.1 L548.1,102.1 L549.8,101.0 L551.5,100.0 L553.2,99.0 L554.9,98.1 L556.7,97.1 L558.5,96.2 L560.2,95.3 L562.0,94.4 L563.9,93.5 L565.7,92.7 L567.5,91.9 L569.4,91.1 L571.3,90.3 L573.2,89.5 L575.1,88.8 L577.0,88.1 L578.9,87.4 L580.9,86.7 L582.9,86.1 L584.8,85.5 L586.8,84.9 L588.8,84.4 L590.8,83.9 L592.8,83.6 L594.9,83.4 L596.9,83.3 L598.9,83.4 L600.9,83.6 L602.9,84.0 L604.9,84.7 L606.6,85.5 L608.2,86.7 L609.6,88.1 L610.7,89.6 L611.7,91.4 L612.4,93.3 L613.1,95.3 L613.6,97.3 L614.1,99.4 L614.4,101.4 L614.7,103.4 L614.9,105.3 L615.1,107.3 L615.3,109.3 L615.4,111.3 L615.5,113.2 L615.5,115.2 L615.6,117.2 L615.6,119.2 L615.6,121.2 L615.5,123.2 L615.5,125.2 L615.4,127.3 L615.4,129.3 L615.3,131.3 L615.2,133.3 L615.1,135.4 L614.9,137.4 L614.8,139.4 L614.7,141.4 L614.6,143.5 L614.4,145.5 L614.3,147.5 L614.2,149.6 L614.1,151.6 L614.0,153.6 L613.9,155.6 L613.8,157.7 L613.8,159.7 L613.7,161.7 L613.7,163.7 L613.7,165.7 L613.7,167.7 L613.7,169.7 L613.8,171.7 L613.9,173.7 L614.0,175.7 L614.5,177.8 L614.9,179.8 L615.4,181.9 L615.9,183.9 L616.5,186.0 L617.0,188.0 L617.5,190.0 L618.1,192.1 L618.6,194.1 L619.1,196.2 L619.7,198.2 L620.2,200.2 L620.7,202.3 L621.2,204.3 L621.7,206.4 L622.2,208.4 L622.7,210.5 L623.1,212.5 L623.5,214.6 L623.9,216.6 L624.3,218.7 L624.6,220.8 L624.9,222.9 L625.2,225.0 L625.4,227.0 L625.6,229.1 L625.8,231.3 L625.9,233.4 L625.9,235.5 L625.9,237.6 L625.9,239.8 L625.8,241.9 L625.6,244.1" stroke="#262626" stroke-width="1.0" fill="none" stroke-linejoin="round" stroke-linecap="round"/>
<path d="M344.4,384.2 L345.6,382.6 L346.8,380.9 L348.0,379.3 L349.2,377.6 L350.4,376.0 L351.5,374.3 L352.7,372.7 L353.9,371.1 L355.1,369.4 L356.3,367.8 L357.4,366.1 L358.6,364.4 L359.8,362.8 L361.0,361.1 L362.1,359.5 L363.3,357.8 L364.5,356.2 L365.7,354.5 L366.8,352.9 L368.0,351.2 L369.2,349.5 L370.3,347.9 L371.5,346.2 L372.6,344.6 L373.8,342.9 L375.0,341.2 L376.1,339.6 L377.3,337.9 L378.4,336.2 L379.6,334.6 L380.7,332.9 L381.9,331.2 L383.1,329.6 L384.2,327.9 L385.4,326.2 L386.5,324.5 L387.7,322.9 L388.8,321.2 L390.0,319.5 L391.1,317.9 L392.2,316.2 L393.4,314.5 L394.5,312.8 L395.7,311.2 L396.8,309.5 L398.0,307.8 L399.1,306.1 L400.3,304.5 L401.4,302.8 L402.6,301.1 L403.7,299.4 L404.8,297.8 L406.0,296.1 L407.1,294.4 L408.3,292.7 L409.4,291.1 L410.6,289.4 L411.7,287.7 L412.8,286.0 L414.0,284.4 L415.1,282.7 L416.3,281.0 L417.4,279.3 L418.6,277.7 L419.7,276.0 L420.8,274.3 L422.0,272.6 L423.1,270.9 L424.3,269.3 L425.4,267.6 L426.6,265.9 L427.7,264.3 L428.8,262.6 L430.0,260.9 L431.1,259.2 L432.3,257.6 L433.4,255.9 L434.6,254.2 L435.7,252.5 L436.9,250.9 L438.0,249.2 L439.2,247.5 L440.3,245.9 L441.5,244.2 L442.6,242.5 L443.8,240.8 L444.9,239.2 L446.1,237.5 L447.3,235.8 L448.4,234.2 L449.6,232.5 L450.7,230.8 L451.9,229.2 L453.0,227.5 L454.2,225.9 L455.4,224.2 L456.5,222.5 L457.7,220.9 L458.9,219.2 L460.0,217.6 L461.2,215.9 L462.4,214.2 L463.5,212.6 L464.7,210.9 L465.9,209.3 L467.1,207.6 L468.2,206.0 L469.4,204.3 L470.6,202.7 L471.8,201.0 L473.0,199.4 L474.2,197.7 L475.3,196.1 L476.5,194.4 L477.7,192.8 L478.9,191.2 L480.1,189.5 L481.3,187.9 L482.5,186.2 L483.7,184.6 L485.4,181.2 L487.7,175.5 L488.9,173.9 L490.1,172.2 L491.3,170.7 L492.6,169.1 L493.9,167.6 L495.3,166.1 L496.7,164.6 L498.1,163.2 L499.6,161.8 L501.1,160.4 L502.6,159.1 L504.2,157.8 L505.8,156.5 L507.4,155.3 L509.0,154.1 L510.7,152.9 L512.4,151.7 L514.1,150.6 L515.8,149.6 L517.6,148.5 L519.4,147.5 L521.2,146.5 L523.0,145.6 L524.8,144.7 L526.7,143.9 L528.5,143.0 L530.4,142.2 L532.3,141.5 L534.2,140.8 L536.1,140.1 L538.0,139.4 L539.9,138.9 L541.8,138.3 L543.8,137.9 L545.7,137.5 L547.7,137.3 L549.8,137.1 L551.8,137.1 L553.9,137.3 L555.9,137.6 L558.0,138.0 L560.0,138.7 L561.8,139.5 L563.5,140.6 L565.0,141.9 L566.2,143.4 L567.2,145.0 L568.1,146.9 L568.7,148.8 L569.2,150.9 L569.5,152.9 L569.8,155.0 L569.9,157.1 L570.0,159.1 L569.9,161.1 L569.9,163.1 L569.8,165.1 L569.7,167.1 L569.6,169.1 L569.6,171.1 L569.5,173.1 L569.4,175.1 L569.3,177.2 L569.2,179.2 L569.1,181.2 L568.9,183.2 L568.8,185.3 L568.7,187.3 L568.5,189.3 L568.4,191.4 L568.2,193.4 L568.0,195.4 L567.8,197.4 L567.5,199.4 L567.3,201.5 L567.0,203.5 L566.8,205.5 L566.5,207.5 L566.2,209.5 L565.9,211.5 L565.5,213.5 L565.2,215.5 L564.9,217.5 L564.5,219.5 L564.2,221.5 L563.8,223.5 L563.4,225.5 L563.0,227.5 L562.6,229.5 L562.3,231.5 L561.9,233.5 L561.5,235.5 L561.1,237.4 L560.7,239.4 L560.3,241.4 L559.9,243.4 L559.5,245.4 L559.1,247.4 L558.7,249.4 L558.3,251.4 L557.9,253.4 L557.5,255.3 L557.1,257.3 L556.7,259.3 L556.3,261.3 L556.0,263.3 L555.6,265.3" stroke="#262626" stroke-width="1.0" fill="none" stroke-linejoin="round" stroke-linecap="round"/>
<path d="M344.4,384.2 L346.1,383.0 L347.8,381.8 L349.4,380.6 L351.1,379.4 L352.7,378.2 L354.4,377.0 L356.0,375.7 L357.6,374.5 L359.2,373.2 L360.7,371.9 L362.3,370.7 L363.8,369.4 L365.4,368.1 L366.9,366.7 L368.4,365.4 L369.9,364.1 L371.4,362.7 L372.9,361.4 L374.4,360.0 L375.9,358.7 L377.3,357.3 L378.8,355.9 L380.2,354.5 L381.6,353.1 L383.0,351.7 L384.5,350.3 L385.8,348.8 L387.2,347.4 L388.6,346.0 L390.0,344.5 L391.4,343.1 L392.7,341.6 L394.1,340.1 L395.4,338.7 L396.7,337.2 L398.1,335.7 L399.4,334.2 L400.7,332.7 L402.0,331.2 L403.3,329.6 L404.6,328.1 L405.9,326.6 L407.2,325.1 L408.4,323.5 L409.7,322.0 L411.0,320.4 L412.2,318.9 L413.5,317.3 L414.7,315.7 L416.0,314.2 L417.2,312.6 L418.5,311.0 L419.7,309.4 L420.9,307.9 L422.2,306.3 L423.4,304.7 L424.6,303.1 L425.8,301.5 L427.0,299.9 L428.2,298.3 L429.4,296.6 L430.6,295.0 L431.8,293.4 L433.0,291.8 L434.2,290.2 L435.4,288.6 L436.6,286.9 L437.8,285.3 L439.0,283.7 L440.2,282.0 L441.4,280.4 L442.6,278.8 L443.8,277.1 L445.0,275.5 L446.2,273.8 L447.4,272.2 L448.6,270.6 L449.8,268.9 L451.0,267.3 L452.1,265.6 L453.3,264.0 L454.5,262.4 L455.7,260.7 L456.9,259.1 L458.1,257.4 L459.3,255.8 L460.6,254.1 L461.8,252.5 L463.0,250.9 L464.2,249.2 L465.4,247.6 L466.6,245.9 L467.9,244.3 L469.1,242.7 L470.3,241.0 L471.6,239.4 L472.8,237.8 L474.1,236.2 L475.3,234.6 L476.6,233.0 L477.9,231.4 L479.1,229.8 L480.4,228.2 L481.8,226.7 L483.1,225.2 L484.4,223.6 L485.8,222.1 L487.1,220.6 L488.5,219.1 L489.9,217.7 L491.3,216.2 L492.7,214.8 L494.1,213.4 L495.6,212.0 L497.1,210.7 L498.6,209.4 L500.1,208.1 L501.6,206.8 L503.2,205.5 L504.7,204.3 L506.3,203.1 L507.9,202.0 L509.6,200.8 L511.3,199.7 L513.0,198.7 L514.7,197.6 L516.4,196.6 L518.2,195.7 L520.0,194.8 L521.8,193.9 L523.7,193.2 L525.6,192.5 L527.5,191.9 L529.4,191.4 L531.3,190.9 L533.3,190.6 L535.3,190.4 L537.3,190.3 L539.3,190.4 L541.4,190.6 L541.9,192.6 L542.3,194.7 L542.6,196.7 L543.0,198.8 L543.3,200.9 L543.6,203.0 L543.8,205.0 L544.1,207.1 L544.3,209.2 L544.5,211.3 L544.6,213.4 L544.8,215.6 L544.9,217.7 L545.0,219.8 L545.1,221.9 L545.2,224.0 L545.3,226.2 L545.4,228.3 L545.5,230.4 L545.6,232.5 L545.7,234.6 L545.8,236.8 L545.9,238.9 L546.0,241.0 L546.1,243.1 L546.2,245.2 L546.3,247.3 L546.5,249.4" stroke="#262626" stroke-width="1.0" fill="none" stroke-linejoin="round" stroke-linecap="round"/>
<path d="M344.4,384.2 L346.4,383.4 L348.3,382.6 L350.3,381.8 L352.1,380.9 L354.0,380.0 L355.8,379.0 L357.6,378.0 L359.4,376.9 L361.1,375.9 L362.8,374.8 L364.4,373.6 L366.1,372.4 L367.7,371.2 L369.3,370.0 L370.8,368.7 L372.4,367.5 L373.9,366.1 L375.4,364.8 L376.8,363.4 L378.3,362.0 L379.7,360.6 L381.1,359.2 L382.5,357.7 L383.9,356.2 L385.3,354.7 L386.6,353.2 L387.9,351.7 L389.2,350.1 L390.5,348.6 L391.8,347.0 L393.1,345.4 L394.4,343.8 L395.6,342.2 L396.9,340.5 L398.1,338.9 L399.3,337.2 L400.6,335.6 L401.8,333.9 L403.0,332.3 L404.2,330.6 L405.4,328.9 L406.6,327.2 L407.8,325.6 L409.0,323.9 L410.2,322.2 L411.4,320.5 L412.6,318.9 L413.8,317.2 L415.0,315.5 L416.2,313.9 L417.5,312.2 L418.7,310.6 L419.9,308.9 L421.2,307.3 L422.4,305.7 L423.7,304.1 L424.9,302.5 L426.2,300.9 L427.5,299.3 L428.8,297.8 L430.1,296.2 L431.5,294.7 L432.8,293.2 L434.2,291.7 L435.6,290.3 L436.9,288.8 L438.4,287.4 L439.8,286.0 L441.3,284.6 L442.8,283.3 L444.3,282.0 L445.9,280.7 L447.6,279.5 L449.4,278.3 L451.2,277.5 L453.1,277.5 L455.0,278.4 L456.9,279.2 L458.1,280.8 L457.7,282.6 L459.2,283.8 L460.1,285.4 L460.7,287.2 L460.9,289.1 L461.0,291.0 L461.1,292.9 L461.3,294.6" stroke="#262626" stroke-width="1.0" fill="none" stroke-linejoin="round" stroke-linecap="round"/>
<path d="M136.1,251.5 C137.3,251.1 141.5,250.2 143.3,249.0 C145.1,247.8 145.3,245.8 146.8,244.4 C148.3,243.0 150.4,241.5 152.4,240.8 C154.4,240.1 156.7,239.8 158.6,240.1 C160.5,240.3 162.4,241.2 163.7,242.3 C165.0,243.4 165.7,243.5 166.2,246.4 C166.7,249.3 166.4,257.5 166.5,259.7" stroke="#262626" stroke-width="1.0" fill="none" stroke-linejoin="round" stroke-linecap="round"/>
<path d="M555.6,265.3 C556.4,263.4 558.4,257.0 560.2,253.8 C562.0,250.6 563.6,248.3 566.5,245.9 C569.4,243.5 573.9,240.3 577.6,239.5 C581.3,238.7 585.5,239.8 588.7,241.1 C591.9,242.4 594.6,246.0 596.7,247.5 C598.8,249.0 599.5,249.5 601.4,250.0 C603.2,250.5 606.7,250.5 607.8,250.6" stroke="#262626" stroke-width="1.0" fill="none" stroke-linejoin="round" stroke-linecap="round"/>
<path d="M21.8,223.3 L25.2,222.0 L28.8,218.6" stroke="#262626" stroke-width="1.0" fill="none" stroke-linejoin="round" stroke-linecap="round"/>
<path d="M665.9,224.0 L664.0,219.0" stroke="#262626" stroke-width="1.0" fill="none" stroke-linejoin="round" stroke-linecap="round"/>
<path d="M546.5,249.4 L548.4,251.8 L546.6,253.6 L544.6,255.4 L546.3,256.7 L545.0,257.7 L546.8,259.0" stroke="#262626" stroke-width="1.0" fill="none" stroke-linejoin="round" stroke-linecap="round"/>
</svg>
</body></html>
